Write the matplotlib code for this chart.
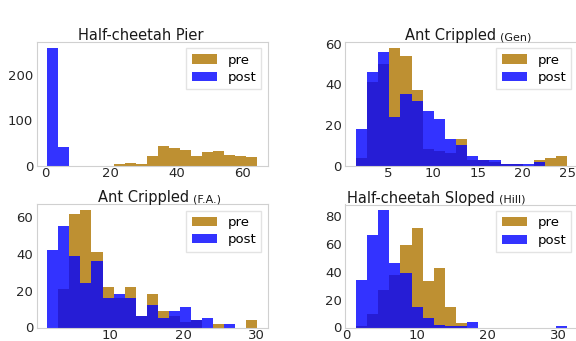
import numpy as np
import matplotlib
matplotlib.use("Agg")
import matplotlib.pyplot as plt

# Episode counts per bin (19 equal bins between the min and max of each run)
pier_range = (0.7, 64.7)
pier_pre = [0, 0, 0, 0, 0, 0, 3, 6, 4, 21, 44, 39, 35, 21, 31, 33, 24, 21, 18]
pier_post = [259, 41, 0, 0, 0, 0, 0, 0, 0, 0, 0, 0, 0, 0, 0, 0, 0, 0, 0]

gen_range = (1.43, 25.0)
gen_pre = [4, 41, 50, 58, 54, 37, 8, 7, 6, 13, 3, 3, 2, 1, 1, 0, 3, 4, 5]
gen_post = [18, 46, 56, 24, 35, 32, 27, 23, 13, 10, 5, 3, 3, 1, 1, 1, 2, 0, 0]

fa_range = (1.4, 30.2)
fa_pre = [0, 21, 62, 64, 41, 22, 16, 22, 6, 18, 9, 6, 3, 4, 0, 2, 0, 0, 4]
fa_post = [42, 55, 39, 24, 36, 16, 18, 16, 6, 12, 5, 9, 11, 4, 5, 0, 2, 0, 0]

hill_range = (1.3, 31.3)
hill_pre = [1, 10, 27, 38, 59, 71, 33, 43, 15, 3, 0, 0, 0, 0, 0, 0, 0, 0, 0]
hill_post = [34, 66, 84, 46, 39, 15, 7, 2, 1, 1, 4, 0, 0, 0, 0, 0, 0, 0, 1]

PRE_COLOR = "#BE9032"
POST_COLOR = "#0000FF"

W, H = 576, 341
fig = plt.figure(figsize=(W / 100, H / 100), dpi=100)


def add_axes(left, top, right, bottom):
    # pixel box -> figure fraction
    return fig.add_axes([left / W, 1 - bottom / H, (right - left) / W, (bottom - top) / H])


def hist_pair(ax, rng, pre, post, xticks, yticks):
    edges = np.linspace(rng[0], rng[1], len(pre) + 1)
    centers = 0.5 * (edges[:-1] + edges[1:])
    ax.hist(centers, bins=edges, weights=pre, color=PRE_COLOR, alpha=1.0, label="pre")
    ax.hist(centers, bins=edges, weights=post, color=POST_COLOR, alpha=0.8, label="post")
    span = rng[1] - rng[0]
    ax.set_xlim(rng[0] - 0.05 * span, rng[1] + 0.05 * span)
    ax.set_xticks(xticks)
    ax.set_yticks(yticks)
    ax.tick_params(length=0, labelsize=9.5, colors="0.15")
    ax.tick_params(axis="x", pad=1)
    ax.tick_params(axis="y", pad=2.5)
    for s in ax.spines.values():
        s.set_color("#d0d0d0")
        s.set_linewidth(0.8)
    ax.legend(loc="upper right", fontsize=9.5, handlelength=1.9, labelspacing=0.35,
              borderaxespad=0.5, edgecolor="#dddddd", fancybox=False)


def title(main, sub, x, y):
    t = fig.text(x / W, 1 - y / H, main, fontsize=10.5, va="baseline", color="0.1")
    if sub:
        bb = t.get_window_extent(renderer=fig.canvas.get_renderer())
        fig.text((bb.x1 + 4) / W, 1 - y / H, sub, fontsize=8, va="baseline", color="0.1")


ax1 = add_axes(36.7, 41.7, 268, 165.7)
hist_pair(ax1, pier_range, pier_pre, pier_post, [0, 20, 40, 60], [0, 100, 200])

ax2 = add_axes(345.3, 41.7, 578, 165.7)
hist_pair(ax2, gen_range, gen_pre, gen_post, [5, 10, 15, 20, 25], [0, 20, 40, 60])

ax3 = add_axes(36.7, 204, 268, 327.5)
hist_pair(ax3, fa_range, fa_pre, fa_post, [10, 20, 30], [0, 20, 40, 60])

ax4 = add_axes(345.3, 204.5, 578, 327.5)
hist_pair(ax4, hill_range, hill_pre, hill_post, [0, 10, 20, 30], [0, 20, 40, 60, 80])

title("Half-cheetah Pier", None, 78, 40.5)
title("Ant Crippled", "(Gen)", 404.7, 40)
title("Ant Crippled", "(F.A.)", 98, 202)
title("Half-cheetah Sloped", "(Hill)", 347, 202.5)

fig.savefig("out.png", dpi=100)
